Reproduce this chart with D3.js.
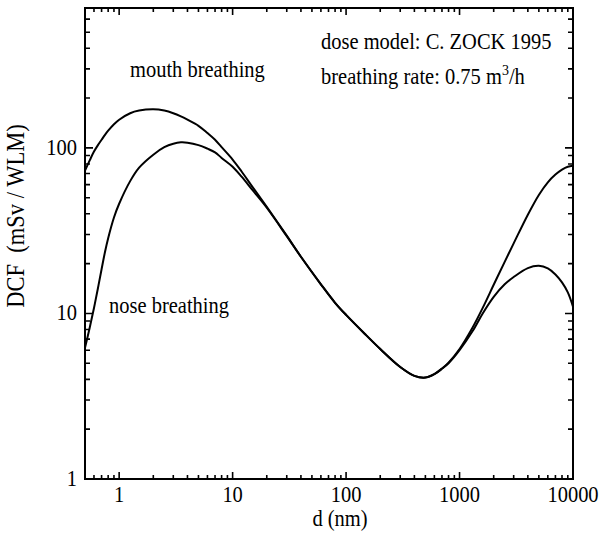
<!DOCTYPE html>
<html>
<head>
<meta charset="utf-8">
<script src="https://cdn.jsdelivr.net/npm/d3@7"></script>
<style>
  html, body { margin: 0; padding: 0; background: #fff; }
  svg text { font-family: "Liberation Serif", "Times New Roman", serif; fill: #000; }
</style>
</head>
<body>
<svg id="chart" width="600" height="539"></svg>
<script>
// Particle diameter d (nm)
const diameter = [0.5, 0.55, 0.6, 0.65, 0.7, 0.75, 0.8, 0.9, 1, 1.25, 1.5, 2, 2.5, 3, 3.5, 4, 5, 6, 7, 8,
  10, 12, 15, 20, 30, 40, 60, 80, 100, 150, 200, 300, 400, 500, 600, 700, 800, 1000, 1300, 1600, 2000,
  2500, 3000, 4000, 5000, 6000, 7000, 8000, 9000, 10000];

// Dose conversion factor (mSv / WLM), mouth breathing
const mouthDCF = [73, 84, 95, 104, 112, 120, 127, 139, 148, 162, 168, 171, 168, 162, 155, 148, 136, 123, 112, 101,
  85, 72, 58, 44, 29.5, 22, 15, 11.6, 9.8, 7.4, 6.1, 4.75, 4.2, 4.1, 4.3, 4.65, 5.05, 6.1, 8.2, 10.8, 14.9,
  20.5, 26.5, 39.5, 52, 62, 69, 74, 77, 78];

// Dose conversion factor (mSv / WLM), nose breathing
const noseDCF = [6.2, 8.2, 10.8, 14.2, 18.5, 23.5, 28.5, 38, 46, 63, 76, 91, 101, 106, 108, 107.5, 104, 99, 94, 87,
  77, 67, 55.5, 43.5, 29.3, 22, 15, 11.6, 9.8, 7.4, 6.1, 4.75, 4.2, 4.1, 4.3, 4.63, 5.0, 6.0, 7.8, 10.0, 12.6,
  15.0, 16.6, 18.8, 19.4, 18.7, 17.2, 15.4, 13.4, 11];

const xMajorTicks = [1, 10, 100, 1000, 10000];
const xTickLabels = ["1", "10", "100", "1000", "10000"];
const yMajorTicks = [1, 10, 100];
const yTickLabels = ["1", "10", "100"];

const svg = d3.select("#chart");
const plotLeft = 85, plotRight = 573, plotTop = 8, plotBottom = 479;
const textScaleY = 1.1;
const fontSize = 20.5;

const x = d3.scaleLog().domain([0.5, 10000]).range([plotLeft, plotRight]);
const y = d3.scaleLog().domain([1, 700]).range([plotBottom, plotTop]);

// minor ticks: 2..9 in every decade inside the domain
function minorTicks(scale) {
  const [a, b] = scale.domain();
  const out = [];
  for (let p = -1; p <= 4; p++) {
    for (let m = 2; m <= 9; m++) {
      const v = m * Math.pow(10, p);
      if (v > a * 1.0001 && v < b * 0.9999) out.push(v);
    }
  }
  return out;
}
const xMinor = minorTicks(x);
const yMinor = minorTicks(y);

// inward tick marks on all four sides, each set drawn as one path
function tickPath(segments) {
  const p = d3.path();
  segments.forEach(([x1, y1, x2, y2]) => { p.moveTo(x1, y1); p.lineTo(x2, y2); });
  svg.append("path")
    .attr("d", p.toString())
    .attr("fill", "none")
    .attr("stroke", "#000")
    .attr("stroke-width", 1.6);
}
function xTicks(values, len) {
  const segs = [];
  values.forEach(v => {
    segs.push([x(v), plotBottom, x(v), plotBottom - len]);
    segs.push([x(v), plotTop, x(v), plotTop + len]);
  });
  tickPath(segs);
}
function yTicks(values, len) {
  const segs = [];
  values.forEach(v => {
    segs.push([plotLeft, y(v), plotLeft + len, y(v)]);
    segs.push([plotRight, y(v), plotRight - len, y(v)]);
  });
  tickPath(segs);
}
xTicks(xMinor, 4);
xTicks(xMajorTicks, 7);
yTicks(yMinor, 5);
yTicks(yMajorTicks, 8);

// frame
svg.append("rect")
  .attr("x", plotLeft).attr("y", plotTop)
  .attr("width", plotRight - plotLeft).attr("height", plotBottom - plotTop)
  .attr("fill", "none").attr("stroke", "#000").attr("stroke-width", 2);

// text helper with slight vertical stretch of the glyphs
function label(px, py, str, anchor, rotate, size) {
  const g = svg.append("g")
    .attr("transform", `translate(${px},${py})` + (rotate ? ` rotate(${rotate})` : "") + ` scale(1,${textScaleY})`);
  return g.append("text")
    .attr("text-anchor", anchor || "start")
    .attr("font-size", size || fontSize)
    .text(str);
}

// tick labels
xMajorTicks.forEach((v, i) => label(x(v), 502, xTickLabels[i], "middle"));
yMajorTicks.forEach((v, i) => label(77, y(v) + 7, yTickLabels[i], "end"));

// axis titles
label(340, 526, "d (nm)", "middle");
label(24, 216, "DCF  (mSv / WLM)", "middle", -90, 22.5).style("white-space", "pre");

// curves
const line = d3.line()
  .x(d => x(d[0]))
  .y(d => y(d[1]))
  .curve(d3.curveCatmullRom.alpha(0.5));

const plot = svg.append("g");
[mouthDCF, noseDCF].forEach(series => {
  plot.append("path")
    .datum(diameter.map((d, i) => [d, series[i]]))
    .attr("d", line)
    .attr("fill", "none")
    .attr("stroke", "#000")
    .attr("stroke-width", 2);
});

// annotations
label(130, 77, "mouth breathing");
label(109, 313, "nose breathing");
label(321, 49, "dose model: C. ZOCK 1995");
const rate = label(321, 84, "breathing rate: 0.75 m");
rate.append("tspan").attr("dy", -8).attr("font-size", 14).text("3");
rate.append("tspan").attr("dy", 8).text("/h");
</script>
</body>
</html>
